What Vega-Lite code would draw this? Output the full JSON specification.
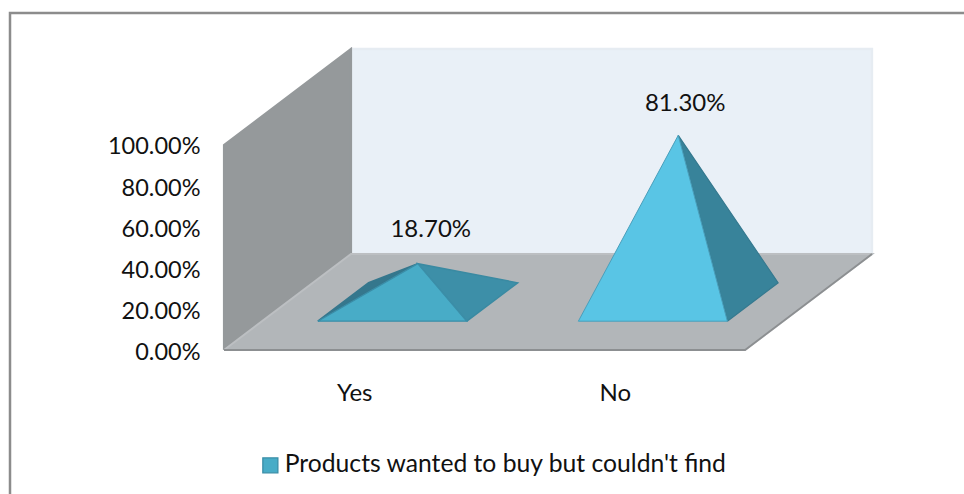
{
  "$schema": "https://vega.github.io/schema/vega-lite/v6.json",
  "width": 964,
  "height": 494,
  "padding": 0,
  "autosize": {"type": "none"},
  "background": "white",
  "config": {"view": {"stroke": null}, "font": "Lato"},
  "datasets": {
    "model": [
      {"face": "frame", "vertex": 1, "slot": -0.8215, "depth": 0, "level": -0.7024},
      {"face": "frame", "vertex": 2, "slot": -0.8215, "depth": 0, "level": 1.644},
      {"face": "frame", "vertex": 3, "slot": 2.8407, "depth": 0, "level": 1.644},

      {"face": "back wall", "vertex": 1, "slot": 0, "depth": 1, "level": 0},
      {"face": "back wall", "vertex": 2, "slot": 0, "depth": 1, "level": 1},
      {"face": "back wall", "vertex": 3, "slot": 2, "depth": 1, "level": 1},
      {"face": "back wall", "vertex": 4, "slot": 2, "depth": 1, "level": 0},
      {"face": "back wall", "vertex": 5, "slot": 0, "depth": 1, "level": 0},

      {"face": "side wall", "vertex": 1, "slot": 0, "depth": 0, "level": 0},
      {"face": "side wall", "vertex": 2, "slot": 0, "depth": 0, "level": 1},
      {"face": "side wall", "vertex": 3, "slot": 0, "depth": 1, "level": 1},
      {"face": "side wall", "vertex": 4, "slot": 0, "depth": 1, "level": 0},
      {"face": "side wall", "vertex": 5, "slot": 0, "depth": 0, "level": 0},

      {"face": "floor", "vertex": 1, "slot": 0, "depth": 0, "level": 0},
      {"face": "floor", "vertex": 2, "slot": 0, "depth": 1, "level": 0},
      {"face": "floor", "vertex": 3, "slot": 2, "depth": 1, "level": 0},
      {"face": "floor", "vertex": 4, "slot": 2, "depth": 0, "level": 0},
      {"face": "floor", "vertex": 5, "slot": 0, "depth": 0, "level": 0},

      {"face": "floor edge", "vertex": 1, "slot": 0, "depth": 0, "level": 0},
      {"face": "floor edge", "vertex": 2, "slot": 2, "depth": 0, "level": 0},
      {"face": "floor edge", "vertex": 3, "slot": 2, "depth": 1, "level": 0},

      {"face": "Yes left", "vertex": 1, "slot": 0.214, "depth": 0.3, "level": 0},
      {"face": "Yes left", "vertex": 2, "slot": 0.214, "depth": 0.7, "level": 0},
      {"face": "Yes left", "vertex": 3, "slot": 0.5, "depth": 0.5, "level": 0.187},
      {"face": "Yes left", "vertex": 4, "slot": 0.214, "depth": 0.3, "level": 0},

      {"face": "Yes right", "vertex": 1, "slot": 0.786, "depth": 0.3, "level": 0},
      {"face": "Yes right", "vertex": 2, "slot": 0.786, "depth": 0.7, "level": 0},
      {"face": "Yes right", "vertex": 3, "slot": 0.5, "depth": 0.5, "level": 0.187},
      {"face": "Yes right", "vertex": 4, "slot": 0.786, "depth": 0.3, "level": 0},

      {"face": "Yes front", "vertex": 1, "slot": 0.214, "depth": 0.3, "level": 0},
      {"face": "Yes front", "vertex": 2, "slot": 0.786, "depth": 0.3, "level": 0},
      {"face": "Yes front", "vertex": 3, "slot": 0.5, "depth": 0.5, "level": 0.187},
      {"face": "Yes front", "vertex": 4, "slot": 0.214, "depth": 0.3, "level": 0},

      {"face": "No right", "vertex": 1, "slot": 1.786, "depth": 0.3, "level": 0},
      {"face": "No right", "vertex": 2, "slot": 1.786, "depth": 0.7, "level": 0},
      {"face": "No right", "vertex": 3, "slot": 1.5, "depth": 0.5, "level": 0.813},
      {"face": "No right", "vertex": 4, "slot": 1.786, "depth": 0.3, "level": 0},

      {"face": "No front", "vertex": 1, "slot": 1.214, "depth": 0.3, "level": 0},
      {"face": "No front", "vertex": 2, "slot": 1.786, "depth": 0.3, "level": 0},
      {"face": "No front", "vertex": 3, "slot": 1.5, "depth": 0.5, "level": 0.813},
      {"face": "No front", "vertex": 4, "slot": 1.214, "depth": 0.3, "level": 0}
    ],
    "answers": [
      {"answer": "Yes", "slot": 0.5, "depth": 0.5, "share": 0.187},
      {"answer": "No", "slot": 1.5, "depth": 0.5, "share": 0.813}
    ]
  },
  "layer": [
    {
      "data": {"name": "model"},
      "transform": [
        {"calculate": "datum.slot + 0.4875 * datum.depth", "as": "across"},
        {"calculate": "datum.level + 0.4683 * datum.depth", "as": "up"}
      ],
      "mark": {"type": "line", "strokeJoin": "miter", "interpolate": "linear"},
      "encoding": {
        "x": {
          "field": "across",
          "type": "quantitative",
          "scale": {"domain": [-0.8599, 2.8407], "nice": false, "zero": false},
          "axis": {
            "title": null, "orient": "bottom", "offset": -101, "grid": false, "domain": false, "ticks": false,
            "values": [0.5, 1.5], "labelExpr": "datum.value < 1 ? 'Yes' : 'No'",
            "labelFontSize": 24, "labelColor": "#111111", "labelPadding": 0, "labelBaseline": "middle",
            "labelFlush": false, "labelOverlap": false
          }
        },
        "y": {
          "field": "up",
          "type": "quantitative",
          "scale": {"domain": [-0.7024, 1.7073], "nice": false, "zero": false},
          "axis": {
            "title": null, "orient": "left", "offset": -200, "grid": false, "domain": false, "ticks": false,
            "values": [0, 0.2, 0.4, 0.6, 0.8, 1], "format": ".2%",
            "labelFontSize": 23.5, "labelColor": "#111111", "labelPadding": 0, "labelBaseline": "middle",
            "labelOffset": 2, "labelFlush": false, "labelOverlap": false
          }
        },
        "order": {"field": "vertex", "type": "quantitative"},
        "fill": {
          "field": "face",
          "type": "nominal",
          "scale": {
            "domain": ["frame", "back wall", "side wall", "floor", "floor edge", "Yes left", "Yes right", "Yes front", "No right", "No front"],
            "range": ["transparent", "#e9f0f7", "#95999b", "#b2b6b9", "transparent", "#35778d", "#3d8fa8", "#48acc7", "#38839a", "#59c5e5"]
          },
          "legend": {
            "orient": "none", "legendX": 258, "legendY": 453, "title": null,
            "values": ["Yes front"],
            "labelExpr": "\"Products wanted to buy but couldn't find\"",
            "symbolType": "square", "symbolSize": 225, "symbolStrokeWidth": 2,
            "labelFontSize": 24.7, "labelColor": "#111111", "labelLimit": 600, "labelOffset": 2
          }
        },
        "stroke": {
          "field": "face",
          "type": "nominal",
          "scale": {
            "domain": ["frame", "back wall", "side wall", "floor", "floor edge", "Yes left", "Yes right", "Yes front", "No right", "No front"],
            "range": ["#8c8c8c", "#e6ecf2", "#95999b", "#bcbfc2", "#8c8f91", "#35778d", "#3a8aa2", "#3b8ea8", "#35798f", "#4a9fbb"]
          },
          "legend": {
            "orient": "none", "legendX": 258, "legendY": 453, "title": null,
            "values": ["Yes front"],
            "labelExpr": "\"Products wanted to buy but couldn't find\"",
            "symbolType": "square", "symbolSize": 225, "symbolStrokeWidth": 2,
            "labelFontSize": 24.7, "labelColor": "#111111", "labelLimit": 600, "labelOffset": 2
          }
        },
        "strokeWidth": {
          "field": "face",
          "type": "nominal",
          "scale": {
            "domain": ["frame", "back wall", "side wall", "floor", "floor edge", "Yes left", "Yes right", "Yes front", "No right", "No front"],
            "range": [2.5, 1, 1, 1, 1.5, 1, 1, 1.2, 1, 1.2]
          },
          "legend": null
        }
      }
    },
    {
      "data": {"name": "answers"},
      "transform": [
        {"filter": "datum.answer == 'Yes'"},
        {"calculate": "datum.slot + 0.4875 * datum.depth", "as": "across"},
        {"calculate": "datum.share + 0.4683 * datum.depth", "as": "up"}
      ],
      "mark": {"type": "text", "fontSize": 24, "color": "#111111", "dx": 13, "dy": -34, "baseline": "middle", "align": "center"},
      "encoding": {
        "x": {"field": "across", "type": "quantitative"},
        "y": {"field": "up", "type": "quantitative"},
        "text": {"field": "share", "type": "quantitative", "format": ".2%"}
      }
    },
    {
      "data": {"name": "answers"},
      "transform": [
        {"filter": "datum.answer == 'No'"},
        {"calculate": "datum.slot + 0.4875 * datum.depth", "as": "across"},
        {"calculate": "datum.share + 0.4683 * datum.depth", "as": "up"}
      ],
      "mark": {"type": "text", "fontSize": 24, "color": "#111111", "dx": 7, "dy": -31, "baseline": "middle", "align": "center"},
      "encoding": {
        "x": {"field": "across", "type": "quantitative"},
        "y": {"field": "up", "type": "quantitative"},
        "text": {"field": "share", "type": "quantitative", "format": ".2%"}
      }
    }
  ]
}
